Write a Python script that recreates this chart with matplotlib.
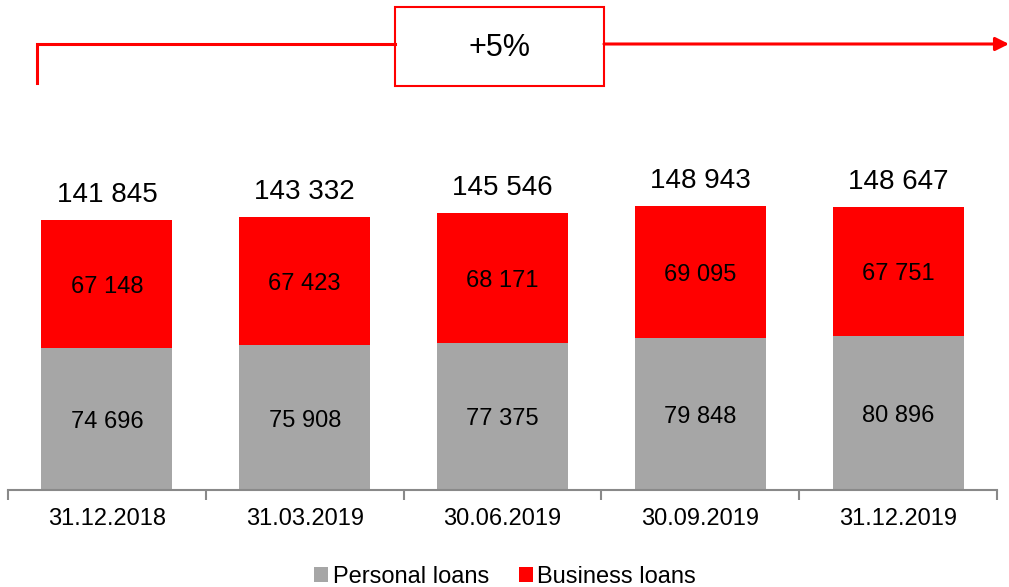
import matplotlib.pyplot as plt
from matplotlib.patches import Rectangle

plt.rcParams['font.family'] = ['Liberation Sans', 'DejaVu Sans']

# data
dates = ['31.12.2018', '31.03.2019', '30.06.2019', '30.09.2019', '31.12.2019']
personal = [74696, 75908, 77375, 79848, 80896]
business = [67148, 67423, 68171, 69095, 67751]
totals = [141845, 143332, 145546, 148943, 148647]
growth_label = '+5%'

GRAY = '#A6A6A6'
RED = '#FF0000'


def fmt(v):
    return f"{v:,}".replace(',', ' ')


fig = plt.figure(figsize=(10.09, 5.87), dpi=100)
ax = fig.add_axes([8 / 1009, 97 / 587, 989 / 1009, 490 / 587])

positions = range(len(dates))
bars_p = ax.bar(positions, personal, width=0.662, color=GRAY, label='Personal loans')
bars_b = ax.bar(positions, business, width=0.662, bottom=personal, color=RED, label='Business loans')

# segment labels
for i in positions:
    ax.text(i, personal[i] / 2 - 1500, fmt(personal[i]), ha='center', va='center', fontsize=17)
    ax.text(i, personal[i] + business[i] / 2 - 1500, fmt(business[i]), ha='center', va='center', fontsize=17)
    ax.text(i, totals[i] + 6500, fmt(totals[i]), ha='center', va='bottom', fontsize=20)

ax.set_xlim(-0.5, len(dates) - 0.5)
ax.set_ylim(0, 257400)

# axis styling
for side in ['top', 'right', 'left']:
    ax.spines[side].set_visible(False)
ax.spines['bottom'].set_color('#898989')
ax.spines['bottom'].set_linewidth(1.5)
ax.set_yticks([])
ax.set_xticks(list(positions))
ax.set_xticklabels(dates, fontsize=17)
ax.tick_params(axis='x', which='major', length=0, pad=13)
ax.set_xticks([x - 0.5 for x in range(len(dates) + 1)], minor=True)
ax.tick_params(axis='x', which='minor', length=7, width=1.5, color='#898989', direction='out')

# growth arrow overlay (pixel coordinates)
ov = fig.add_axes([0, 0, 1, 1], facecolor='none')
ov.set_xlim(0, 1009)
ov.set_ylim(587, 0)
ov.axis('off')
ov.plot([37, 37, 395], [83, 44, 44], color=RED, lw=2.2, solid_joinstyle='miter')
ov.annotate('', xy=(1009, 44), xytext=(604, 44),
            arrowprops=dict(arrowstyle='-|>', color=RED, lw=2.2, mutation_scale=20, shrinkA=0, shrinkB=0))
ov.add_patch(Rectangle((395, 7), 209, 79, fill=False, edgecolor=RED, lw=1.5))
ov.text(499.5, 48, growth_label, ha='center', va='center', fontsize=22)

# legend
fig.legend(handles=[bars_p, bars_b], loc='center', bbox_to_anchor=(505 / 1009, 10 / 587),
           ncol=2, frameon=False, fontsize=17, handlelength=0.6, handleheight=0.6,
           handletextpad=0.2, columnspacing=1.25)

fig.savefig('out.png', dpi=100)
